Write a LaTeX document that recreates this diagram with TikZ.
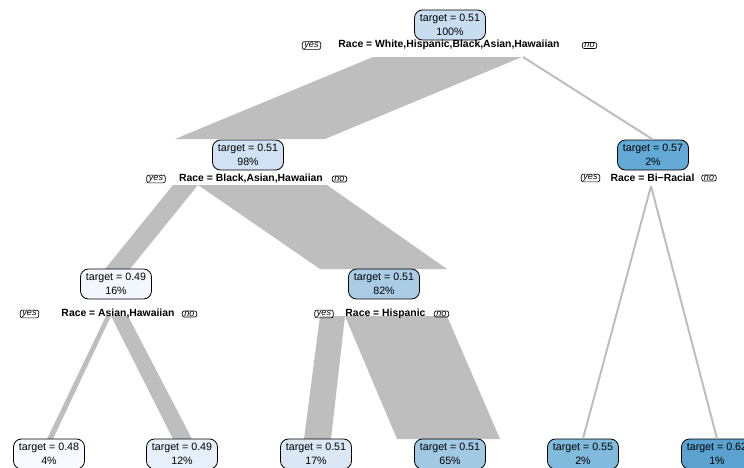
\documentclass[tikz,border=0pt]{standalone}
\usepackage{fontspec}
\setmainfont{Liberation Sans}
\definecolor{branchgray}{HTML}{BEBEBE}
\definecolor{cA}{HTML}{C9DDF0}
\definecolor{cB}{HTML}{D0E2F3}
\definecolor{cC}{HTML}{64AAD6}
\definecolor{cD}{HTML}{F2F7FD}
\definecolor{cE}{HTML}{AACDE5}
\definecolor{cF}{HTML}{F6FAFE}
\definecolor{cG}{HTML}{E6F0FA}
\definecolor{cH}{HTML}{DAE8F5}
\definecolor{cI}{HTML}{A2C9E3}
\definecolor{cJ}{HTML}{80BADD}
\definecolor{cK}{HTML}{5BA2D1}
\begin{document}
\begin{tikzpicture}[x=0.75pt,y=-0.75pt,
  tbox/.style={draw=black, line width=0.6pt, rounded corners=6pt,
    minimum width=53.25pt, minimum height=22.5pt, inner xsep=2pt, inner ysep=1pt,
    align=center, font=\fontsize{8}{10.5}\selectfont},
  splitlab/.style={font=\fontsize{7.8}{9}\bfseries\selectfont, inner sep=0pt},
  yn/.style={draw=black, line width=0.5pt, rounded corners=1.5pt,
    font=\fontsize{6.8}{7}\itshape\selectfont, inner xsep=1.6pt, inner ysep=0.4pt},
  fatbranch/.style={fill=branchgray, draw=none},
  thinbranch/.style={draw=branchgray, line width=1.5pt}]
\useasboundingbox (0,0) rectangle (744,468);
\clip (0,0) rectangle (744,468);

% wide branches (width proportional to share of observations)
\fill[fatbranch] (373,57) -- (522,57) -- (325,139) -- (175,139) -- cycle;
\fill[fatbranch] (173,185) -- (198,185) -- (130,269) -- (105,269) -- cycle;
\fill[fatbranch] (198,185) -- (327,185) -- (447,269) -- (320,269) -- cycle;
\fill[fatbranch] (106,316) -- (111,316) -- (53,439) -- (47,439) -- cycle;
\fill[fatbranch] (111,316) -- (128,316) -- (192,439) -- (173,439) -- cycle;
\fill[fatbranch] (320,316) -- (345,316) -- (331,439) -- (304,439) -- cycle;
\fill[fatbranch] (345,316) -- (447,316) -- (500,439) -- (397,439) -- cycle;

% nodes
\node[tbox, fill=cA] (root) at (450,25) {target = 0.51\\100\%};
\node[tbox, fill=cB] (n98) at (248,155) {target = 0.51\\98\%};
\node[tbox, fill=cC] (n2) at (653,155) {target = 0.57\\2\%};
\node[tbox, fill=cD] (n16) at (116,284) {target = 0.49\\16\%};
\node[tbox, fill=cE] (n82) at (384,284) {target = 0.51\\82\%};
\node[tbox, fill=cF] (l4) at (49,454) {target = 0.48\\4\%};
\node[tbox, fill=cG] (l12) at (182,454) {target = 0.49\\12\%};
\node[tbox, fill=cH] (l17) at (316,454) {target = 0.51\\17\%};
\node[tbox, fill=cI] (l65) at (450,454) {target = 0.51\\65\%};
\node[tbox, fill=cJ] (l2) at (583,454) {target = 0.55\\2\%};
\node[tbox, fill=cK] (l1) at (717,454) {target = 0.62\\1\%};

% split labels
\node[splitlab] (sroot) at (449,45) {Race = White,Hispanic,Black,Asian,Hawaiian};
\node[yn] (yroot) at (311.5,45.5) {yes};
\node[yn] (nroot) at (589.5,45.5) {no};
\node[splitlab] (s98) at (251,179) {Race = Black,Asian,Hawaiian};
\node[yn] (y98) at (156,179) {yes};
\node[yn] (no98) at (339.5,179) {no};
\node[splitlab] (s2) at (652.5,178) {Race = Bi{\normalfont\bfseries\char"2212}Racial};
\node[yn] (y2) at (590.5,178) {yes};
\node[yn] (no2) at (709,178) {no};
\node[splitlab] (s16) at (118,314) {Race = Asian,Hawaiian};
\node[yn] (y16) at (29.5,314) {yes};
\node[yn] (no16) at (189.5,314) {no};
\node[splitlab] (s82) at (385.5,314) {Race = Hispanic};
\node[yn] (y82) at (324,314) {yes};
\node[yn] (no82) at (441.5,314) {no};

% thin branches
\coordinate (rsplit) at (523,57);
\coordinate (bsplit) at (651,186);
\draw[thinbranch] (rsplit) -- (n2.north);
\draw[thinbranch] (bsplit) -- (l2.north);
\draw[thinbranch] (bsplit) -- (l1.north);
\end{tikzpicture}
\end{document}
